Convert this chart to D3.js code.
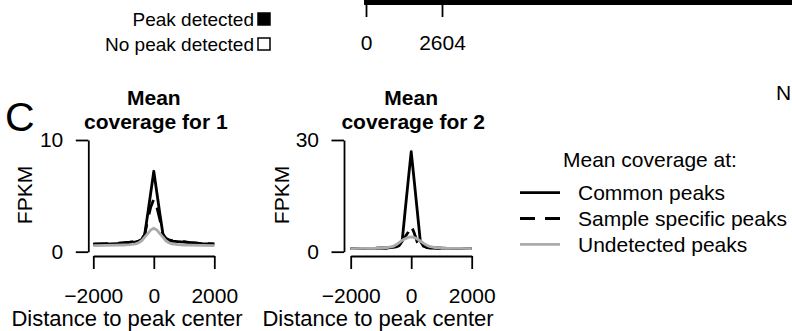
<!DOCTYPE html>
<html><head><meta charset="utf-8">
<script src="https://cdn.jsdelivr.net/npm/d3@7"></script>
<style>
body{margin:0;background:#fff}
svg{display:block}
text{font-family:"Liberation Sans",Arial,Helvetica,sans-serif;fill:#000}
</style>
</head><body>
<svg id="chart" width="792" height="331"></svg>
<script>
// ---------- data ----------
const distances = [-2000,-1600,-1200,-1000,-800,-600,-500,-400,-300,-200,-100,0,100,200,300,400,500,600,800,1000,1200,1600,2000];
const sample1Common     = [0.65,0.68,0.72,0.75,0.8,0.88,0.95,1.1,1.55,3.4,5.3,7.2,5.3,3.4,1.6,1.15,1.0,0.95,0.9,0.85,0.8,0.72,0.68];
const sample1Specific   = [0.7,0.72,0.76,0.8,0.85,0.92,1.0,1.15,1.5,2.9,4.0,4.7,4.0,2.9,1.5,1.2,1.05,1.0,0.95,0.9,0.82,0.75,0.7];
const sample1Undetected = [0.55,0.56,0.58,0.6,0.63,0.7,0.8,0.98,1.3,1.62,1.95,2.1,1.95,1.62,1.3,0.98,0.8,0.7,0.63,0.6,0.58,0.56,0.55];
const sample2Common     = [0.85,0.88,0.92,0.95,1.0,1.15,1.3,1.6,2.8,11,19,26.9,19,11,2.9,1.5,1.25,1.1,1.0,0.95,0.9,0.88,0.85];
const sample2Specific   = [0.85,0.88,0.92,0.95,1.0,1.15,1.35,1.9,3.0,4.0,5.2,7.0,5.0,2.6,1.6,1.2,1.1,1.0,0.95,0.92,0.9,0.88,0.85];
const sample2Undetected = [0.85,0.88,0.92,0.97,1.1,1.4,1.85,2.45,3.05,3.5,3.85,4.0,3.8,3.4,2.9,2.3,1.8,1.4,1.1,1.0,0.92,0.88,0.85];
const panelTitles = ["coverage for 1","coverage for 2"];
const yMaxes = [10,30];
const xTicks = [-2000,0,2000];
const seriesNames = ["Common peaks","Sample specific peaks","Undetected peaks"];
const topLegend = ["Peak detected","No peak detected"];
const topTicks = [0,2604];

// ---------- drawing ----------
const svg = d3.select("#chart");
const FS = 21;
const seriesStyle = [
  {stroke:"#000", dash:null},
  {stroke:"#000", dash:"15,10"},
  {stroke:"#ababab", dash:null}
];

const panels = [
  {data:[sample1Common,sample1Specific,sample1Undetected], ox:0,   yAxisX:88.3, labelX:127, fpkmX:31.5},
  {data:[sample2Common,sample2Specific,sample2Undetected], ox:257.4, yAxisX:344, labelX:378, fpkmX:289}
];

panels.forEach((p,i)=>{
  const x = d3.scaleLinear().domain([-2000,2000]).range([93.3+p.ox,214.3+p.ox]);
  const y = d3.scaleLinear().domain([0,yMaxes[i]]).range([251.7,140]);
  const cx = (x.range()[0]+x.range()[1])/2;

  // titles
  svg.append("text").attr("x",cx).attr("y",105).attr("text-anchor","middle")
     .style("font-weight","bold").style("font-size",FS+"px").text("Mean");
  svg.append("text").attr("x",cx+2).attr("y",129).attr("text-anchor","middle")
     .style("font-weight","bold").style("font-size",FS+"px").text(panelTitles[i]);

  // y axis
  const ya = svg.append("g").attr("transform",`translate(${p.yAxisX},0)`)
     .call(d3.axisLeft(y).tickValues([0,yMaxes[i]]).tickSize(12.5).tickSizeOuter(0).tickPadding(12.5).tickFormat(d3.format("d")));
  ya.selectAll("path,line").attr("stroke","#000").attr("stroke-width",1.8);
  ya.selectAll("text").style("font-size",FS+"px").style("font-family",null);

  // x axis
  const xa = svg.append("g").attr("transform",`translate(0,256)`)
     .call(d3.axisBottom(x).tickValues(xTicks).tickSize(13).tickSizeOuter(0).tickPadding(19).tickFormat(d3.format("d")));
  xa.selectAll("path,line").attr("stroke","#000").attr("stroke-width",1.8);
  xa.selectAll("text").style("font-size",FS+"px").style("font-family",null);

  // axis titles
  svg.append("text").attr("x",p.labelX).attr("y",326).attr("text-anchor","middle")
     .style("font-size","22px").text("Distance to peak center");
  svg.append("text").attr("transform",`translate(${p.fpkmX},195) rotate(-90)`)
     .attr("text-anchor","middle").style("font-size",FS+"px").text("FPKM");

  // lines
  const line = d3.line().x((d,k)=>x(distances[k])).y(d=>y(d));
  p.data.forEach((vals,s)=>{
    svg.append("path").datum(vals).attr("d",line).attr("fill","none")
      .attr("stroke",seriesStyle[s].stroke).attr("stroke-width",2.8)
      .attr("stroke-linejoin","round")
      .attr("stroke-dasharray",seriesStyle[s].dash);
  });
});

// panel letter
svg.append("text").attr("x",5).attr("y",131).style("font-size","41px").text("C");

// legend
svg.append("text").attr("x",563).attr("y",167).style("font-size",FS+"px").text("Mean coverage at:");
seriesNames.forEach((n,s)=>{
  const yy = 192.7 + s*25.8;
  svg.append("line").attr("x1",520).attr("x2",560).attr("y1",yy).attr("y2",yy)
     .attr("stroke",seriesStyle[s].stroke).attr("stroke-width",2.8)
     .attr("stroke-dasharray",seriesStyle[s].dash);
  svg.append("text").attr("x",578).attr("y",yy+7.5).style("font-size",FS+"px").text(n);
});

// top fragment (part of another panel)
topLegend.forEach((t,k)=>{
  const yy = 26 + k*25;
  svg.append("text").attr("x",254).attr("y",yy).attr("text-anchor","end").style("font-size","19px").text(t);
  svg.append("rect").attr("x",258).attr("y",yy-13).attr("width",12).attr("height",12)
     .attr("fill",k===0?"#000":"#fff").attr("stroke","#000").attr("stroke-width",1.5);
});
const tx = d3.scaleLinear().domain([0,2604]).range([366,442]);
svg.append("rect").attr("x",364).attr("y",-2).attr("width",430).attr("height",7).attr("fill","#000");
const ta = svg.append("g").attr("transform","translate(0,5)")
  .call(d3.axisBottom(tx).tickValues(topTicks).tickSize(12).tickSizeOuter(0).tickPadding(18).tickFormat(d3.format("d")));
ta.select(".domain").remove();
ta.selectAll("line").attr("stroke","#000").attr("stroke-width",1.8);
ta.selectAll("text").style("font-size",FS+"px").style("font-family",null);
svg.append("text").attr("x",776).attr("y",100).style("font-size",FS+"px").text("N");
</script>
</body></html>
